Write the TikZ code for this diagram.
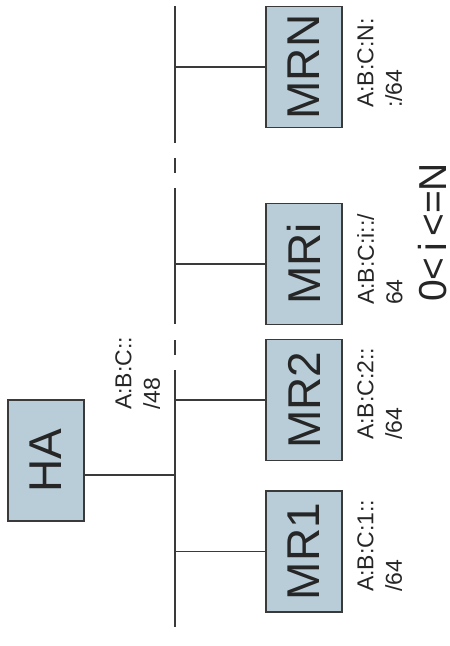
\documentclass[tikz,border=0pt]{standalone}
\usepackage{fontspec}
\usepackage{graphicx}
\setmainfont{Liberation Sans}
\definecolor{boxfill}{HTML}{B9CDD8}
\definecolor{linec}{HTML}{3A3A3A}
\definecolor{textc}{HTML}{262626}
\begin{document}
\begin{tikzpicture}[x=1pt,y=-1pt,
  hostbox/.style={draw=linec,line width=1.6pt,fill=boxfill,minimum width=76pt,minimum height=121pt,inner sep=0pt,text=textc,font=\fontsize{46}{46}\selectfont},
  addr/.style={rotate=90,anchor=north west,align=left,inner sep=0pt,text=textc,font=\fontsize{23}{28.5}\selectfont},
  bus/.style={draw=linec,line width=2pt},
  link/.style={draw=linec,line width=1.5pt}]
\useasboundingbox (0,0) rectangle (450,646);
% boxes
\node[hostbox] (HA)  at (46,460.5) {\rotatebox{90}{HA}};
\node[hostbox] (MR1) at (304,551.5) {\rotatebox{90}{MR1}};
\node[hostbox] (MR2) at (304,400) {\rotatebox{90}{MR2}};
\node[hostbox] (MRi) at (304,264) {\rotatebox{90}{MRi}};
\node[hostbox] (MRN) at (304,67) {\rotatebox{90}{MRN}};
% bus segments
\coordinate (b1) at (175,6);
\coordinate (b2) at (175,143);
\coordinate (d1) at (175,158);
\coordinate (d2) at (175,173);
\coordinate (b3) at (175,188);
\coordinate (b4) at (175,324);
\coordinate (d3) at (175,340);
\coordinate (d4) at (175,355);
\coordinate (b5) at (175,370);
\coordinate (b6) at (175,627);
\draw[bus] (b1) -- (b2);
\draw[bus] (d1) -- (d2);
\draw[bus] (b3) -- (b4);
\draw[bus] (d3) -- (d4);
\draw[bus] (b5) -- (b6);
% links
\coordinate (jHA) at (175,475);
\draw[link] (HA.east |- jHA) -- (jHA);
\draw[link] (MR1.west) -- (MR1.west -| b1);
\draw[link] (MR2.west) -- (MR2.west -| b1);
\draw[link] (MRi.west) -- (MRi.west -| b1);
\draw[link] (MRN.west) -- (MRN.west -| b1);
% labels
\node[addr] (lHA)  at (115,410) {A:B:C::\\/48};
\node[addr] (lMR1) at (357,592) {A:B:C:1::\\/64};
\node[addr] (lMR2) at (357,440) {A:B:C:2::\\/64};
\node[addr] (lMRi) at (357,305) {A:B:C:i::/\\64};
\node[addr] (lMRN) at (357,108) {A:B:C:N:\\:/64};
\node[rotate=90,anchor=north west,inner sep=0pt,text=textc,font=\fontsize{39}{39}\selectfont] (cond) at (418,302) {0<\hspace{6pt}i\hspace{6pt}<=N};
\end{tikzpicture}
\end{document}
